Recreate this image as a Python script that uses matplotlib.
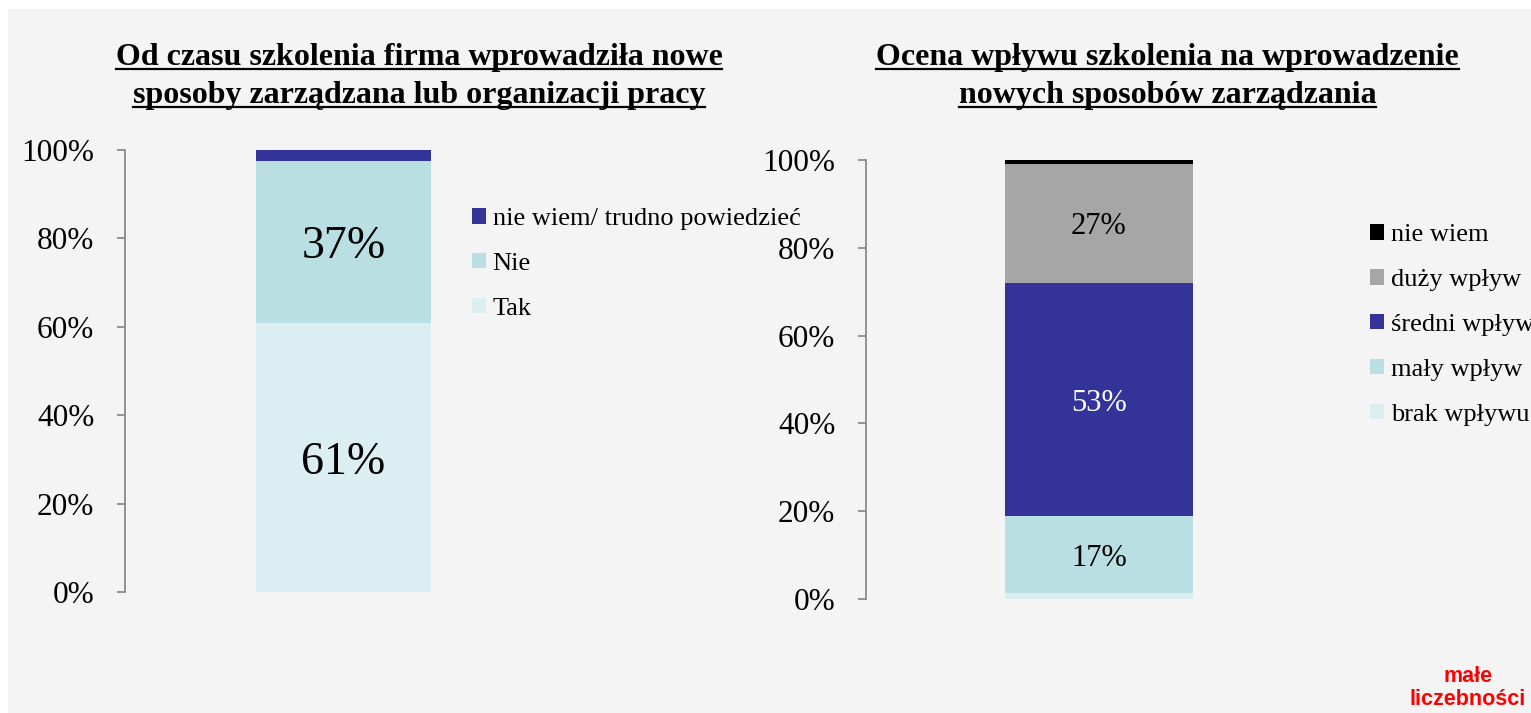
import matplotlib
matplotlib.use("Agg")
import matplotlib.pyplot as plt
from matplotlib.lines import Line2D
from matplotlib.patches import Rectangle
from matplotlib.ticker import PercentFormatter

plt.rcParams["font.family"] = ["Liberation Serif", "DejaVu Serif"]

# left chart: "Od czasu szkolenia ..."
left_title = ["Od czasu szkolenia firma wprowadziła nowe",
              "sposoby zarządzana lub organizacji pracy"]
left_cats = ["Tak", "Nie", "nie wiem/ trudno powiedzieć"]
left_vals = [60.9, 36.7, 2.4]
left_colors = ["#dbeef1", "#b9dfe3", "#333399"]

# right chart: "Ocena wpływu ..."
right_title = ["Ocena wpływu szkolenia na wprowadzenie",
               "nowych sposobów zarządzania"]
right_cats = ["brak wpływu", "mały wpływ", "średni wpływ", "duży wpływ", "nie wiem"]
right_vals = [1.4, 17.4, 53.1, 27.3, 0.8]
right_colors = ["#dbeef1", "#b9dfe3", "#333399", "#a6a6a6", "#000000"]
right_label_colors = ["black", "black", "white", "black", "black"]

ticks = [0, 20, 40, 60, 80, 100]
note = "małe\nliczebności"

W, H = 1531, 713
fig = plt.figure(figsize=(W / 100, H / 100), dpi=100, facecolor="white")
fig.patches.append(Rectangle((8 / W, 0), 1, (H - 9) / H, transform=fig.transFigure,
                             facecolor="#f4f4f4", edgecolor="none", zorder=-5))


def px(x0, y_top, w, h):
    # pixel box (from top-left) -> figure fraction
    return [x0 / W, (H - y_top - h) / H, w / W, h / H]


def stacked(ax, vals, colors, labels, lab_fs, lab_colors, bar_w):
    bottom = 0
    handles = []
    for v, c, lab, lc in zip(vals, colors, labels, lab_colors):
        b = ax.bar(0, v, bottom=bottom, width=bar_w, color=c, label=lab, zorder=2)
        handles.append(b)
        if v >= 5:
            ax.text(0, bottom + v / 2, f"{v:.0f}%", ha="center", va="center_baseline",
                    fontsize=lab_fs, color=lc, zorder=3)
        bottom += v
    ax.set_xlim(-0.5, 0.5)
    ax.set_ylim(0, 100)
    ax.set_yticks(ticks)
    ax.yaxis.set_major_formatter(PercentFormatter(100, decimals=0))
    ax.set_xticks([])
    ax.patch.set_alpha(0)
    for s in ["top", "right", "bottom"]:
        ax.spines[s].set_visible(False)
    ax.spines["left"].set_color("#8a8a8a")
    ax.spines["left"].set_linewidth(1.3)
    ax.tick_params(axis="y", length=6, width=1.3, color="#8a8a8a", pad=16, labelsize=22.5)
    return handles


ax1 = fig.add_axes(px(125, 150, 437, 442))
h1 = stacked(ax1, left_vals, left_colors, left_cats, 33, ["black"] * 3, 0.4)
ax2 = fig.add_axes(px(866, 160, 466, 439))
h2 = stacked(ax2, right_vals, right_colors, right_cats, 22, right_label_colors, 0.403)

leg_kw = dict(frameon=False, fontsize=19, handlelength=0.53, handleheight=0.53,
              handletextpad=0.25, borderpad=0, borderaxespad=0,
              loc="center left", bbox_transform=fig.transFigure)
fig.legend(h1[::-1], left_cats[::-1], bbox_to_anchor=(472 / W, 1 - 264 / H),
           labelspacing=0.86, **leg_kw)
fig.legend(h2[::-1], right_cats[::-1], bbox_to_anchor=(1370 / W, 1 - 325 / H),
           labelspacing=0.86, **leg_kw)

# underlined two-line titles
renderer = fig.canvas.get_renderer()
for lines, cx in [(left_title, 419), (right_title, 1167.5)]:
    for line, base in zip(lines, [65, 103]):
        t = fig.text(cx / W, 1 - base / H, line, ha="center", va="baseline",
                     fontsize=23, fontweight="bold")
        bb = t.get_window_extent(renderer)
        yu = 1 - (base + 4) / H
        fig.add_artist(Line2D([bb.x0 / W, bb.x1 / W], [yu, yu], color="black", lw=1.6,
                              transform=fig.transFigure))

fig.text(1468 / W, 1 - 688 / H, note, ha="center", va="center", color="#ff0000",
         fontsize=15.5, fontweight="bold", family="Liberation Sans", linespacing=1.15)

fig.savefig("out.png", dpi=100, facecolor="white")
